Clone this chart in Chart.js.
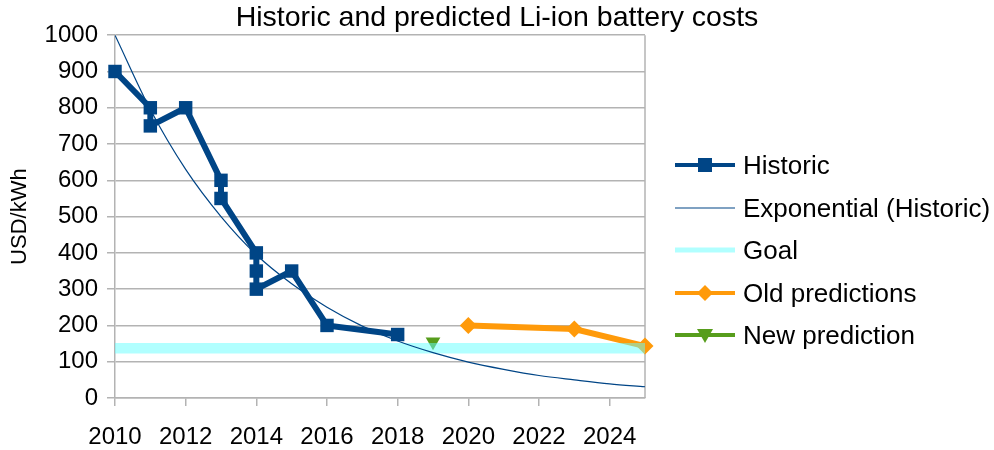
<!DOCTYPE html>
<html>
<head>
<meta charset="utf-8">
<script src="https://cdn.jsdelivr.net/npm/chart.js@4"></script>
<style>
html,body{margin:0;padding:0;background:#fff;}
#wrap{width:994px;height:450px;}
</style>
</head>
<body>
<div id="wrap"><canvas id="c" width="994" height="450"></canvas></div>
<script>
// ---- data ----
const historicYears = [2010, 2011, 2011, 2012, 2013, 2013, 2014, 2014, 2014, 2015, 2016, 2018];
const historicCosts = [900, 800, 750, 800, 600, 550, 400, 350, 300, 350, 200, 175];
const trendYears = [2010, 2011, 2012, 2013, 2014, 2015, 2016, 2017, 2018, 2019, 2020, 2021, 2022, 2023, 2024, 2025];
const trendCosts = [1000, 795, 630, 500, 395, 315, 250, 198, 157, 125, 99, 79, 62, 50, 39, 31];
const goalYears = [2010, 2025];
const goalCosts = [137, 137];
const oldPredYears = [2020, 2023, 2025];
const oldPredCosts = [200, 190, 143];
const newPredYears = [2019];
const newPredCosts = [155];
const seriesNames = ['Historic', 'Exponential (Historic)', 'Goal', 'Old predictions', 'New prediction'];
const xTickLabels = [2010, 2012, 2014, 2016, 2018, 2020, 2022, 2024];
const yTickLabels = [0, 100, 200, 300, 400, 500, 600, 700, 800, 900, 1000];

const pts = (xs, ys) => xs.map((x, i) => ({x: x, y: ys[i]}));

const BLUE = '#004586', ORANGE = '#ff9a0a', GREEN = '#579d1c', GOAL = 'rgba(100,255,255,0.5)', GRID = '#b3b3b3';
const FONT = "'Liberation Sans', Arial, sans-serif";

const legendItems = [
  {name: seriesNames[0], color: BLUE, lw: 4, marker: 'square'},
  {name: seriesNames[1], color: BLUE, lw: 1.2, marker: null},
  {name: seriesNames[2], color: 'rgb(177,255,255)', lw: 5, marker: null},
  {name: seriesNames[3], color: ORANGE, lw: 4, marker: 'diamond'},
  {name: seriesNames[4], color: GREEN, lw: 4, marker: 'tri'}
];

const customLegend = {
  id: 'customLegend',
  afterDraw(chart) {
    const ctx = chart.ctx;
    const x0 = 675, x1 = 735, tx = 743;
    const ys = [165, 208, 250, 293, 335];
    ctx.save();
    legendItems.forEach((it, i) => {
      const y = ys[i];
      ctx.strokeStyle = it.color;
      ctx.lineWidth = it.lw;
      ctx.beginPath(); ctx.moveTo(x0, y); ctx.lineTo(x1, y); ctx.stroke();
      ctx.fillStyle = it.color;
      const cx = (x0 + x1) / 2;
      if (it.marker === 'square') {
        ctx.fillRect(cx - 7, y - 7, 14, 14);
      } else if (it.marker === 'diamond') {
        ctx.beginPath(); ctx.moveTo(cx, y - 8); ctx.lineTo(cx + 8, y); ctx.lineTo(cx, y + 8); ctx.lineTo(cx - 8, y); ctx.closePath(); ctx.fill();
      } else if (it.marker === 'tri') {
        ctx.beginPath(); ctx.moveTo(cx - 8, y - 6); ctx.lineTo(cx + 8, y - 6); ctx.lineTo(cx, y + 8); ctx.closePath(); ctx.fill();
      }
      ctx.fillStyle = '#000';
      ctx.font = "26px " + FONT;
      ctx.textAlign = 'left';
      ctx.textBaseline = 'middle';
      ctx.fillText(it.name, tx, y + 2);
    });
    ctx.restore();
  }
};

const rightBorder = {
  id: 'rightBorder',
  beforeDatasetsDraw(chart) {
    const a = chart.chartArea, ctx = chart.ctx;
    ctx.save();
    ctx.strokeStyle = GRID; ctx.lineWidth = 1.5;
    ctx.beginPath(); ctx.moveTo(a.right, a.top); ctx.lineTo(a.right, a.bottom); ctx.stroke();
    ctx.restore();
  }
};

new Chart(document.getElementById('c'), {
  type: 'line',
  data: {
    datasets: [
      {label: seriesNames[0], data: pts(historicYears, historicCosts), borderColor: BLUE, backgroundColor: BLUE,
       borderWidth: 6, pointStyle: 'rect', pointRadius: 9.5, pointBorderWidth: 0, tension: 0, borderJoinStyle: 'round', clip: false},
      {label: seriesNames[1], data: pts(trendYears, trendCosts), borderColor: BLUE, borderWidth: 1.2,
       pointRadius: 0, cubicInterpolationMode: 'monotone'},
      {label: seriesNames[2], data: pts(goalYears, goalCosts), borderColor: GOAL, borderWidth: 10.5,
       pointRadius: 0, borderCapStyle: 'butt'},
      {label: seriesNames[3], data: pts(oldPredYears, oldPredCosts), borderColor: ORANGE, backgroundColor: ORANGE,
       borderWidth: 6, pointStyle: 'rectRot', pointRadius: 8.5, pointBorderWidth: 0, clip: false},
      {label: seriesNames[4], data: pts(newPredYears, newPredCosts), borderColor: GREEN, backgroundColor: GREEN,
       borderWidth: 4, pointStyle: 'triangle', rotation: 180, pointRotation: 180, pointRadius: 8.5, pointBorderWidth: 0, clip: false}
    ]
  },
  options: {
    responsive: false,
    animation: false,
    devicePixelRatio: 1,
    layout: {padding: 0},
    plugins: {
      legend: {display: false},
      tooltip: {enabled: false},
      title: {display: true, text: 'Historic and predicted Li-ion battery costs', color: '#000',
              font: {family: FONT, size: 28.5, weight: 'normal'}, padding: {top: 1, bottom: 0}}
    },
    scales: {
      x: {
        type: 'linear', min: 2010, max: 2025,
        afterFit(s) { s.height = 52; },
        afterBuildTicks(s) { s.ticks = xTickLabels.map(v => ({value: v})); },
        ticks: {stepSize: 2, includeBounds: false, color: '#000', padding: 17,
                font: {family: FONT, size: 24}, maxRotation: 0, autoSkip: false,
                callback: v => String(v)},
        grid: {drawOnChartArea: false, drawTicks: true, tickLength: 8, color: GRID, lineWidth: 1.5},
        border: {color: GRID, width: 1.5}
      },
      y: {
        type: 'linear', min: 0, max: 1000,
        afterFit(s) { s.width = 115; },
        afterBuildTicks(s) { s.ticks = yTickLabels.map(v => ({value: v})); },
        ticks: {stepSize: 100, color: '#000', padding: 9, font: {family: FONT, size: 24},
                callback: v => String(v)},
        grid: {color: GRID, lineWidth: 1.5, tickLength: 8},
        border: {color: GRID, width: 1.5},
        title: {display: true, text: 'USD/kWh', color: '#000', font: {family: FONT, size: 22}, padding: {top: 7, bottom: 0}}
      },
      legendSpace: {
        type: 'linear', position: 'right', axis: 'y', display: true,
        afterFit(s) { s.width = 349; },
        ticks: {display: false},
        grid: {display: false, drawOnChartArea: false, drawTicks: false},
        border: {display: false}
      }
    }
  },
  plugins: [rightBorder, customLegend]
});
</script>
</body>
</html>
